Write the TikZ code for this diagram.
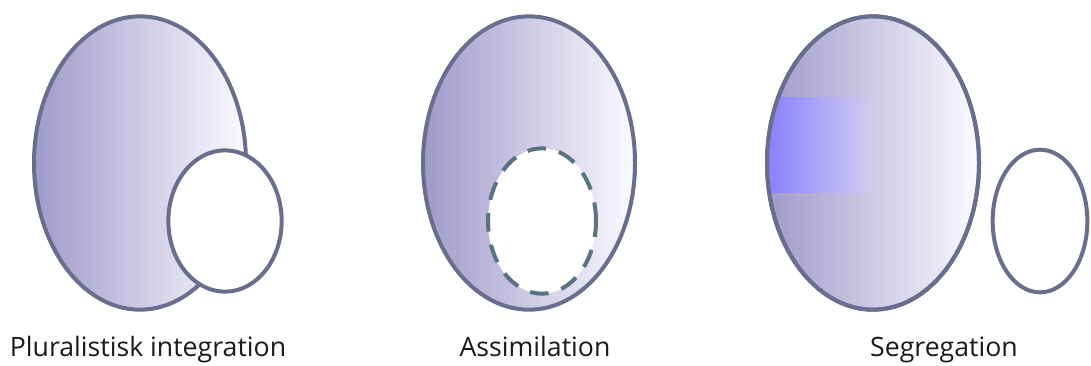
\documentclass[tikz,border=0pt]{standalone}
\usepackage{fontspec}
\setmainfont{Open Sans}
\usetikzlibrary{shapes.geometric}
\definecolor{rimgray}{HTML}{696D8E}
\definecolor{dashteal}{HTML}{587482}
\definecolor{eggdark}{HTML}{A19ACA}
\definecolor{eggmid}{HTML}{DAD3F7}
\definecolor{egglight}{HTML}{FBFAFF}
\definecolor{patchblue}{HTML}{857BFF}
\definecolor{captext}{HTML}{1A1A1A}

\begin{document}
\begin{tikzpicture}[x=0.75pt, y=-0.75pt,
      every node/.style={inner sep=0pt, outer sep=0pt},
      bigegg/.style={ellipse, draw=rimgray, line width=3pt, minimum width=159pt, minimum height=220pt,
                     left color=eggdark, middle color=eggmid, right color=egglight},
      smallegg/.style={ellipse, draw=rimgray, line width=3pt, fill=white},
      hole/.style={ellipse, draw=dashteal, line width=3pt, fill=white, dash pattern=on 14pt off 10pt},
      rim/.style={draw=rimgray, line width=3pt},
      caption/.style={font=\fontsize{20}{24}\selectfont, text=captext, anchor=base}
    ]
    \useasboundingbox (0,0) rectangle (1091,365);
    \node[bigegg] (plurbig) at (140,163) {};
    \node[smallegg, minimum width=85pt, minimum height=106pt] (plursmall) at (225,221) {};
    \node[bigegg] (assimbig) at (529,163) {};
    \node[hole, minimum width=81pt, minimum height=109pt] (assimhole) at (542,221) {};
    \node[bigegg] (segbig) at (873,163) {};
    \begin{scope}
      \clip (segbig.center) ellipse [x radius=79.5pt, y radius=110pt];
      \fill[left color=patchblue, middle color=patchblue!50!eggmid, right color=eggmid!86!eggdark]
        (760,97) rectangle (872,192);
    \end{scope}
    \draw[rim] (segbig.center) ellipse [x radius=79.5pt, y radius=110pt];
    \node[smallegg, fill=none, minimum width=71pt, minimum height=107pt] (segsmall) at (1040,221) {};
    \node[caption] (plurcap) at (148,356) {Pluralistisk integration};
    \node[caption] (assimcap) at (535,356) {Assimilation};
    \node[caption] (segcap) at (944,356) {Segregation};
  \end{tikzpicture}
\end{document}
